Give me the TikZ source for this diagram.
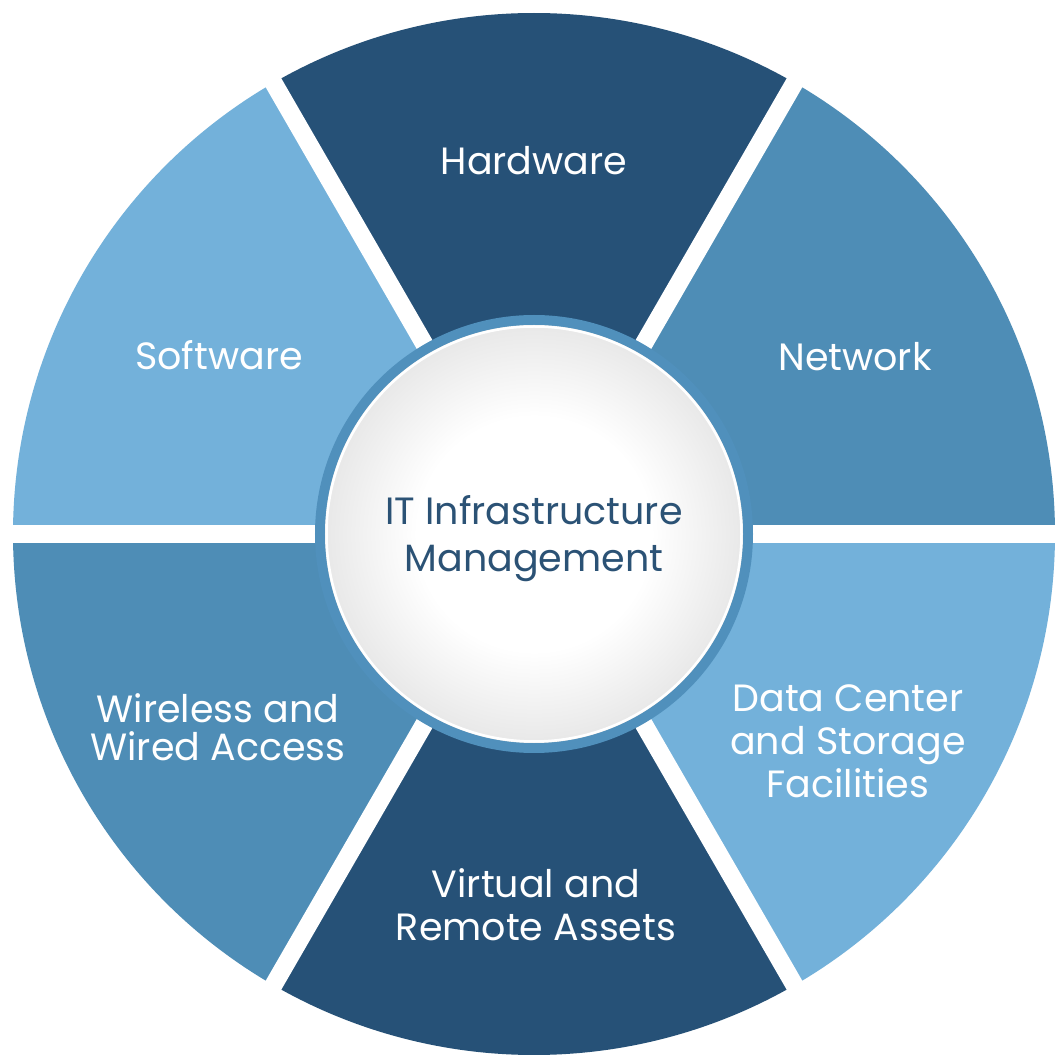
\documentclass[tikz,border=0pt]{standalone}
\usepackage{fontspec}
\setmainfont{Poppins}[Ligatures=NoCommon]
\usepackage{tikz}

\definecolor{navyblue}{HTML}{265177}
\definecolor{midblue}{HTML}{4E8DB6}
\definecolor{lightblue}{HTML}{73B1DA}
\definecolor{ringblue}{HTML}{5090BC}
\definecolor{hubtext}{HTML}{2B5275}

\pgfdeclareradialshading{hubshade}{\pgfpoint{0bp}{0bp}}{color(0bp)=(white); color(14bp)=(white); color(25bp)=(black!9); color(50bp)=(black!9)}

\tikzset{
    sectorlabel/.style={text=white, align=center, font=\fontsize{38}{42}\selectfont},
    hublabel/.style={text=hubtext, align=center, font=\fontsize{38}{47}\selectfont}
}

\begin{document}
\begin{tikzpicture}[x=1pt,y=1pt]
    \useasboundingbox (-534,-525) rectangle (523,534);
    \fill[white] (-534,-525) rectangle (523,534);
    % sectors
    \fill[midblue] (0,0) -- (0:521) arc[start angle=0, end angle=60, radius=521] -- cycle;
    \fill[navyblue] (0,0) -- (60:521) arc[start angle=60, end angle=120, radius=521] -- cycle;
    \fill[lightblue] (0,0) -- (120:521) arc[start angle=120, end angle=180, radius=521] -- cycle;
    \fill[midblue] (0,0) -- (180:521) arc[start angle=180, end angle=240, radius=521] -- cycle;
    \fill[navyblue] (0,0) -- (240:521) arc[start angle=240, end angle=300, radius=521] -- cycle;
    \fill[lightblue] (0,0) -- (300:521) arc[start angle=300, end angle=360, radius=521] -- cycle;
    % gaps
    \foreach \a in {0,60,...,300}
        \draw[white, line width=18pt] (0,0) -- (\a:530);
    % hub
    \fill[ringblue] (0,0) circle (219);
    \shade[shading=hubshade] (0,0) circle (209);
    \draw[white, line width=2.5pt] (0,0) circle (207.5);

    \node[sectorlabel] (hardware) at (0,373) {Hardware};
    \node[sectorlabel] (network) at (321,177) {Network};
    \node[sectorlabel] (software) at (-315,179) {Software};
    \node[sectorlabel, font=\fontsize{38}{38}\selectfont] (wireless) at (-316,-193) {Wireless and\\Wired Access};
    \node[sectorlabel, font=\fontsize{38}{43}\selectfont] (virtual) at (2,-371) {Virtual and\\Remote Assets};
    \node[sectorlabel, font=\fontsize{38}{43}\selectfont] (datacenter) at (314,-207) {Data Center\\and Storage\\Facilities};
    \node[hublabel] (hub) at (0,-5) {IT Infrastructure\\Management};
\end{tikzpicture}
\end{document}
